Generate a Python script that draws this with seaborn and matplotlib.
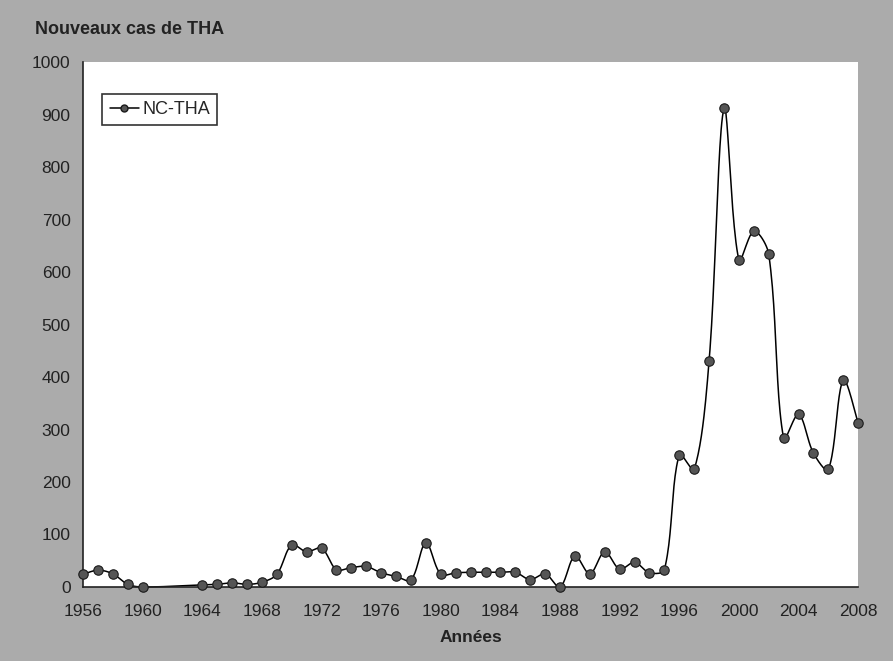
import numpy as np
import pandas as pd
import matplotlib
matplotlib.use('Agg')
import matplotlib.pyplot as plt
from matplotlib.lines import Line2D
import seaborn as sns

# données
annees = [1956, 1957, 1958, 1959, 1960,
          1964, 1965, 1966, 1967, 1968, 1969, 1970, 1971, 1972, 1973, 1974,
          1975, 1976, 1977, 1978, 1979, 1980, 1981, 1982, 1983, 1984, 1985,
          1986, 1987, 1988, 1989, 1990, 1991, 1992, 1993, 1994, 1995, 1996,
          1997, 1998, 1999, 2000, 2001, 2002, 2003, 2004, 2005, 2006, 2007,
          2008]
cas = [24, 32, 25, 5, 0,
       4, 5, 8, 5, 9, 24, 80, 67, 74, 33, 37,
       39, 27, 20, 13, 84, 24, 27, 28, 28, 28, 28,
       14, 25, 0, 59, 25, 67, 34, 47, 27, 33, 252,
       224, 431, 912, 623, 678, 634, 283, 329, 255, 224, 394,
       312]
xticks = list(range(1956, 2009, 4))
yticks = list(range(0, 1001, 100))

df = pd.DataFrame({'annee': annees, 'cas': cas})

sns.set_style('white')
plt.rcParams['font.family'] = ['Liberation Sans', 'DejaVu Sans']

fond = '#ababab'
fig = plt.figure(figsize=(8.93, 6.61), dpi=100, facecolor=fond)
ax = fig.add_axes([0.093, 0.112, 0.868, 0.794])
ax.set_facecolor('white')


# courbe lissée façon Excel : Bézier, poignées pondérées par la longueur
# des segments (mesurée à l'écran)
def lisse(x, y, kx=14.9, ky=0.525, n=24):
    x = np.asarray(x, float)
    y = np.asarray(y, float)
    P = np.column_stack([x, y])
    S = np.column_stack([x * kx, y * ky])
    m = len(P)
    out = []
    t = np.linspace(0, 1, n)[:, None]
    for i in range(m - 1):
        p0 = P[max(i - 1, 0)]
        p1, p2 = P[i], P[i + 1]
        p3 = P[min(i + 2, m - 1)]
        d01 = np.linalg.norm(S[i] - S[max(i - 1, 0)])
        d12 = np.linalg.norm(S[i + 1] - S[i])
        d23 = np.linalg.norm(S[min(i + 2, m - 1)] - S[i + 1])
        f1 = d12 / (d01 + d12) if d01 > 0 else 0.5
        f2 = d12 / (d12 + d23) if d23 > 0 else 0.5
        c1 = p1 + (p2 - p0) * f1 / 3
        c2 = p2 - (p3 - p1) * f2 / 3
        seg = ((1 - t) ** 3 * p1 + 3 * (1 - t) ** 2 * t * c1
               + 3 * (1 - t) * t ** 2 * c2 + t ** 3 * p2)
        out.append(seg)
    out = np.vstack(out)
    return out[:, 0], out[:, 1]


sx, sy = lisse(df['annee'], df['cas'])
ax.plot(sx, sy, color='black', lw=1.1, zorder=2, clip_on=False)
sns.scatterplot(data=df, x='annee', y='cas', ax=ax, s=46, color='#555555',
                edgecolor='#1a1a1a', linewidth=0.8, zorder=3, clip_on=False,
                legend=False)

ax.set_xlim(1956, 2008)
ax.set_ylim(0, 1000)
ax.set_xticks(xticks)
ax.set_yticks(yticks)
ax.tick_params(axis='both', labelsize=12.5, colors='#222222', direction='out',
               length=5, width=1, pad=4)
ax.tick_params(axis='x', pad=7)
for s in ['top', 'right']:
    ax.spines[s].set_visible(False)
for s in ['left', 'bottom']:
    ax.spines[s].set_color('#222222')
    ax.spines[s].set_linewidth(1.2)
ax.set_xlabel('Années', fontsize=12.5, fontweight='bold', color='#222222',
              labelpad=8)
ax.set_ylabel('')

fig.text(0.039, 0.955, 'Nouveaux cas de THA', fontsize=13, fontweight='bold',
         color='#222222', ha='left', va='center')

h = Line2D([], [], color='black', lw=1.1, marker='o', markersize=5,
           markerfacecolor='#555555', markeredgecolor='#1a1a1a')
leg = ax.legend([h], ['NC-THA'], loc='upper left',
                bbox_to_anchor=(0.025, 0.94), fontsize=13, frameon=True,
                fancybox=False, handlelength=1.6, handletextpad=0.2,
                borderpad=0.4, borderaxespad=0)
leg.get_frame().set_edgecolor('black')
leg.get_frame().set_linewidth(1.2)

fig.savefig('out.png', dpi=100, facecolor=fond)
